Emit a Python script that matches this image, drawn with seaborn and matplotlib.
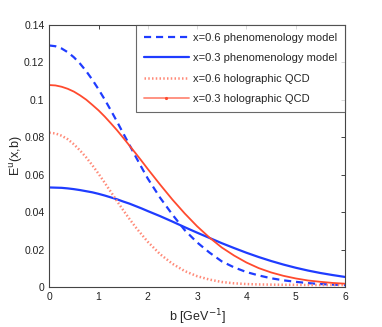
import numpy as np
import pandas as pd
import matplotlib
matplotlib.use("Agg")
import matplotlib.pyplot as plt
import seaborn as sns

# b 값 (GeV^-1) - 0~2 구간은 촘촘하게
b_vals = [0.0, 0.125, 0.25, 0.375, 0.5, 0.625, 0.75, 0.875, 1.0, 1.125, 1.25,
          1.375, 1.5, 1.625, 1.75, 1.875, 2.0, 2.25, 2.5, 2.75, 3.0, 3.25, 3.5,
          3.75, 4.0, 4.25, 4.5, 4.75, 5.0, 5.25, 5.5, 5.75, 6.0]

# x=0.6 phenomenology model
pheno_06 = [0.1290, 0.1286, 0.1274, 0.1254, 0.1227, 0.1193, 0.1153, 0.1107, 0.1056,
            0.1002, 0.0944, 0.0884, 0.0822, 0.0761, 0.0699, 0.0639, 0.0580, 0.0478,
            0.0388, 0.0305, 0.0240, 0.0186, 0.0139, 0.0107, 0.0082, 0.0064, 0.0049,
            0.0038, 0.0030, 0.0023, 0.0018, 0.0015, 0.0012]
# x=0.3 phenomenology model
pheno_03 = [0.0533, 0.0532, 0.0531, 0.0528, 0.0524, 0.0519, 0.0513, 0.0507, 0.0499,
            0.0490, 0.0480, 0.0470, 0.0458, 0.0447, 0.0434, 0.0421, 0.0407, 0.0380,
            0.0351, 0.0321, 0.0292, 0.0264, 0.0236, 0.0210, 0.0185, 0.0162, 0.0141,
            0.0122, 0.0105, 0.0090, 0.0077, 0.0066, 0.0056]
# x=0.6 holographic QCD
holo_06 = [0.0825, 0.0821, 0.0809, 0.0790, 0.0763, 0.0730, 0.0693, 0.0651, 0.0606,
           0.0558, 0.0509, 0.0460, 0.0412, 0.0366, 0.0322, 0.0282, 0.0243, 0.0177,
           0.0126, 0.0087, 0.0060, 0.0042, 0.0029, 0.0022, 0.0018, 0.0016, 0.0015,
           0.0014, 0.0014, 0.0013, 0.0013, 0.0013, 0.0013]
# x=0.3 holographic QCD
holo_03 = [0.1079, 0.1077, 0.1070, 0.1059, 0.1044, 0.1024, 0.1001, 0.0973, 0.0944,
           0.0911, 0.0875, 0.0838, 0.0798, 0.0757, 0.0716, 0.0674, 0.0631, 0.0548,
           0.0468, 0.0394, 0.0326, 0.0266, 0.0213, 0.0170, 0.0133, 0.0103, 0.0080,
           0.0062, 0.0048, 0.0037, 0.0030, 0.0024, 0.0020]

labels = ["x=0.6 phenomenology model", "x=0.3 phenomenology model",
          "x=0.6 holographic QCD", "x=0.3 holographic QCD"]
yticks = [0, 0.02, 0.04, 0.06, 0.08, 0.1, 0.12, 0.14]
ytick_labels = ["0", "0.02", "0.04", "0.06", "0.08", "0.1", "0.12", "0.14"]
xticks = [0, 1, 2, 3, 4, 5, 6]

df = pd.DataFrame({"b": b_vals * 4,
                   "E": pheno_06 + pheno_03 + holo_06 + holo_03,
                   "model": sum([[l] * len(b_vals) for l in labels], [])})

sns.set_style("white")
plt.rcParams["font.family"] = ["Liberation Sans", "DejaVu Sans"]

fig = plt.figure(figsize=(3.82, 3.27), dpi=100)
ax = fig.add_axes([0.129, 0.121, 0.774, 0.803])

blue = "#1f3cff"
red = "#ff4a2e"
pink = "#ff8a78"

styles = {
    labels[0]: dict(color=blue, linestyle=(0, (3.2, 2.2)), lw=1.6),
    labels[1]: dict(color=blue, linestyle="-", lw=1.6),
    labels[2]: dict(color=pink, linestyle=(0, (0.6, 0.9)), lw=1.8),
    labels[3]: dict(color=red, linestyle="-", lw=1.3),
}

for lab in labels:
    sub = df[df["model"] == lab]
    st = styles[lab]
    sns.lineplot(data=sub, x="b", y="E", ax=ax, label=lab, color=st["color"],
                 linestyle=st["linestyle"], linewidth=st["lw"])

ax.set_xlim(0, 6)
ax.set_ylim(0, 0.14)
ax.set_xticks(xticks)
ax.set_yticks(yticks)
ax.set_yticklabels(ytick_labels)
ax.tick_params(direction="in", length=3, top=True, right=True, labelsize=7.5,
               colors="#222222", width=0.6)
for sp in ax.spines.values():
    sp.set_color("#444444")
    sp.set_linewidth(0.8)

ax.set_xlabel("b [GeV$^{-1}$]", fontsize=9, labelpad=4)
ax.set_ylabel("E$^{\\mathrm{u}}$(x,b)", fontsize=9, labelpad=-1)

leg = ax.legend(loc="upper right", fontsize=8, frameon=True, fancybox=False,
                borderaxespad=0.0, handlelength=4.0, labelspacing=0.95,
                borderpad=0.7, handletextpad=0.4)
leg.get_frame().set_edgecolor("#444444")
leg.get_frame().set_linewidth(0.8)
# 범례의 holographic x=0.3 선은 연한 색 + 가운데 점
hl = leg.get_lines()[3]
hl.set_color(pink)
hl.set_marker(".")
hl.set_markevery([1])
hl.set_markersize(3)
hl.set_markerfacecolor(red)
hl.set_markeredgecolor(red)

fig.savefig("out.png", dpi=100)
